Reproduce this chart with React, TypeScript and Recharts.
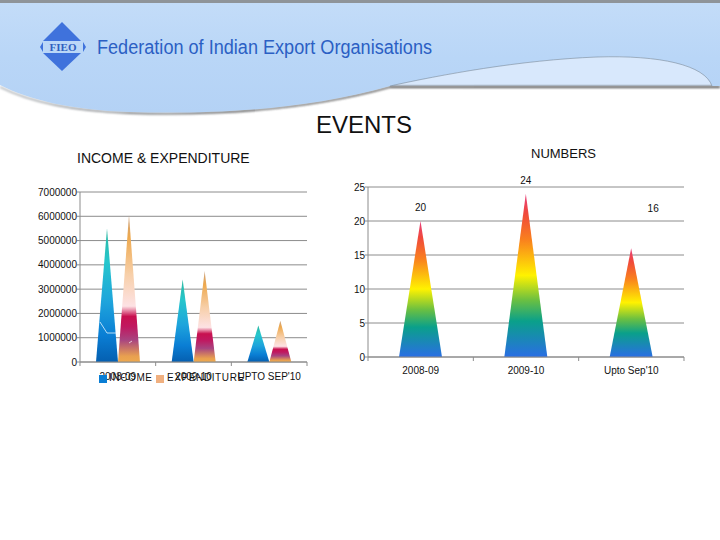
import React from "react";
import { BarChart, Bar, XAxis, YAxis, CartesianGrid, LabelList } from "recharts";

const FONT = "'Liberation Sans', Arial, sans-serif";
const GRID = "#8c8c8c";

const periods = ["2008-09", "2009-10", "UPTO  SEP'10"];
const incomeValues = [5500000, 3400000, 1500000];
const expenditureValues = [6050000, 3750000, 1700000];
const moneyTicks = [0, 1000000, 2000000, 3000000, 4000000, 5000000, 6000000, 7000000];

const eventPeriods = ["2008-09", "2009-10", "Upto Sep'10"];
const eventCounts = [20, 24, 16];
const countTicks = [0, 5, 10, 15, 20, 25];
const labelShiftX = [0, 0, 22];
const labelShiftY = [0, 0, -26];

const moneyData = periods.map((period, i) => ({
  period,
  income: incomeValues[i],
  expenditure: expenditureValues[i],
}));
const countData = eventPeriods.map((period, i) => ({ period, count: eventCounts[i] }));

const Spike = (props: any) => {
  const { x, y, width, height, fill } = props;
  return <path d={`M${x},${y + height} L${x + width / 2},${y} L${x + width},${y + height} Z`} fill={fill} />;
};

const BandTick = (props: any) => {
  const { x, y, payload, index, band, last, size } = props;
  return (
    <g>
      <line x1={x - band / 2} x2={x - band / 2} y1={y - 8} y2={y - 4} stroke={GRID} />
      {index === last && <line x1={x + band / 2} x2={x + band / 2} y1={y - 8} y2={y - 4} stroke={GRID} />}
      <text x={x} y={y + size} textAnchor="middle" fontSize={10} fontFamily={FONT} fill="#111">
        {payload.value}
      </text>
    </g>
  );
};

const CountLabel = (props: any) => {
  const { x, y, width, value, index } = props;
  return (
    <text
      x={x + width / 2 + labelShiftX[index]}
      y={y - 10 + labelShiftY[index]}
      textAnchor="middle"
      fontSize={10}
      fontFamily={FONT}
      fill="#111"
    >
      {value}
    </text>
  );
};

const Stop = (o: number, c: string) => <stop offset={`${o}%`} stopColor={c} />;

const Header = () => (
  <svg width={720} height={175} style={{ position: "absolute", left: 0, top: 0 }}>
    <defs>
      <linearGradient id="head" x1="0" y1="0" x2="0" y2="1">
        {Stop(0, "#c3dcf8")}
        {Stop(50, "#b9d6f7")}
        {Stop(100, "#b4d2f5")}
      </linearGradient>
      <linearGradient id="shadowFade" x1="0" y1="0" x2="1" y2="0">
        {Stop(0, "#b0b4b8")}
        {Stop(15, "#808488")}
        {Stop(40, "#505050")}
        {Stop(100, "#484848")}
      </linearGradient>
      <filter id="blur" x="-5%" y="-30%" width="110%" height="160%">
        <feGaussianBlur stdDeviation="1" />
      </filter>
    </defs>
    <rect x={0} y={0} width={720} height={3} fill="#8f9499" />
    <path d="M390,86 C440,75 520,60 597,57 C660,55 705,65 712,86 Z" fill="#d8e8fc" />
    <path
      d="M0,87 C30,102 70,111 130,113 C200,115 300,112 390,87 L720,87"
      fill="none"
      stroke="url(#shadowFade)"
      strokeWidth={1.8}
      filter="url(#blur)"
    />
    <path
      d="M0,3 L720,3 L720,86 L712,86 C705,65 660,55 597,57 C520,60 440,75 390,86 C300,112 200,114 130,112 C70,110 30,100 0,85 Z"
      fill="url(#head)"
    />
    <path d="M390,86 C440,75 520,60 597,57 C660,55 705,65 712,86" fill="none" stroke="#6f7f90" strokeWidth={1} opacity={0.55} />
    <polygon points="62,22 43,41 81,41" fill="#3f72dc" />
    <polygon points="62,71 43,53 81,53" fill="#3f72dc" />
    <polygon points="40,47 43,42 43,52" fill="#3f72dc" />
    <polygon points="86,47 83,42 83,52" fill="#3f72dc" />
    <text x={63} y={51} textAnchor="middle" fontSize={11} fontWeight="bold" fontFamily="'Liberation Serif', serif" fill="#2f5fc0">
      FIEO
    </text>
    <text x={97} y={54} fontSize={20} fontFamily={FONT} fill="#2b5fc4" textLength={335} lengthAdjust="spacingAndGlyphs">
      Federation of Indian Export Organisations
    </text>
  </svg>
);

const abs = (left: number, top: number, size: number, extra: any = {}) => ({
  position: "absolute" as const,
  left,
  top,
  fontSize: size,
  fontFamily: FONT,
  color: "#111",
  whiteSpace: "pre" as const,
  lineHeight: 1,
  ...extra,
});

export default function App() {
  return (
    <div style={{ position: "fixed", left: 0, top: 0, width: 720, height: 540, background: "#fff", overflow: "hidden" }}>
      <Header />
      <div style={abs(316, 113, 24)}>EVENTS</div>
      <div style={abs(77, 151, 14)}>INCOME &amp; EXPENDITURE</div>
      <div style={abs(531, 147, 13)}>NUMBERS</div>

      <div style={{ position: "absolute", left: 0, top: 0 }}>
        <BarChart
          width={340}
          height={400}
          data={moneyData}
          margin={{ top: 192, right: 33, bottom: 8, left: 0 }}
          barSize={22}
          barGap={0}
        >
          <defs>
            <linearGradient id="incomeFill" x1="0" y1="0" x2="0" y2="1">
              {Stop(0, "#2cb8a0")}
              {Stop(25, "#26c6cc")}
              {Stop(55, "#1ea4dc")}
              {Stop(80, "#0a7ed4")}
              {Stop(100, "#055fb0")}
            </linearGradient>
            <linearGradient id="expenseFill" x1="0" y1="0" x2="0" y2="1">
              {Stop(0, "#c8a080")}
              {Stop(15, "#eea94e")}
              {Stop(40, "#f7cfa8")}
              {Stop(62, "#fde2e4")}
              {Stop(69, "#c8104f")}
              {Stop(76, "#c01860")}
              {Stop(85, "#a84480")}
              {Stop(96, "#e8a050")}
              {Stop(100, "#eea94e")}
            </linearGradient>
          </defs>
          <CartesianGrid vertical={false} stroke={GRID} strokeWidth={1} />
          <XAxis
            dataKey="period"
            axisLine={{ stroke: GRID }}
            tickLine={false}
            interval={0}
            height={30}
            tick={<BandTick band={75.67} last={2} size={10} />}
          />
          <YAxis
            width={80}
            domain={[0, 7000000]}
            ticks={moneyTicks}
            interval={0}
            axisLine={{ stroke: GRID }}
            tickLine={{ stroke: GRID }}
            tickSize={3}
            tickMargin={0}
            tick={{ fontSize: 10, fontFamily: FONT, fill: "#111" }}
          />
          <Bar dataKey="income" fill="url(#incomeFill)" shape={<Spike />} isAnimationActive={false} />
          <Bar dataKey="expenditure" fill="url(#expenseFill)" shape={<Spike />} isAnimationActive={false} />
        </BarChart>
      </div>

      <div style={{ position: "absolute", left: 340, top: 0 }}>
        <BarChart
          width={380}
          height={400}
          data={countData}
          margin={{ top: 187, right: 36, bottom: 13, left: 0 }}
          barSize={43}
        >
          <defs>
            <linearGradient id="rainbow" x1="0" y1="0" x2="0" y2="1">
              {Stop(0, "#e8407e")}
              {Stop(12, "#f0483c")}
              {Stop(28, "#f9801e")}
              {Stop(50, "#fff200")}
              {Stop(65, "#6cc040")}
              {Stop(78, "#0aa08a")}
              {Stop(100, "#2a6ee4")}
            </linearGradient>
          </defs>
          <CartesianGrid vertical={false} stroke={GRID} strokeWidth={1} />
          <XAxis
            dataKey="period"
            axisLine={{ stroke: GRID }}
            tickLine={false}
            interval={0}
            height={30}
            tick={<BandTick band={105.33} last={2} size={9} />}
          />
          <YAxis
            width={28}
            domain={[0, 25]}
            ticks={countTicks}
            interval={0}
            axisLine={{ stroke: GRID }}
            tickLine={{ stroke: GRID }}
            tickSize={3}
            tickMargin={0}
            tick={{ fontSize: 10, fontFamily: FONT, fill: "#111" }}
          />
          <Bar dataKey="count" fill="url(#rainbow)" shape={<Spike />} isAnimationActive={false}>
            <LabelList dataKey="count" content={<CountLabel />} />
          </Bar>
        </BarChart>
      </div>

      <svg width={720} height={540} style={{ position: "absolute", left: 0, top: 0, pointerEvents: "none" }}>
        <polyline points="100,322 107,333 116,333" fill="none" stroke="#dff2ff" strokeWidth={0.8} />
        <line x1={129} y1={343} x2={132} y2={341} stroke="#f6e6ee" strokeWidth={0.8} />
      </svg>

      <div style={{ position: "absolute", left: 99, top: 375, width: 8, height: 8, background: "#0a7ed4" }} />
      <div style={abs(109, 373, 10, { letterSpacing: 0.6 })}>INCOME</div>
      <div style={{ position: "absolute", left: 156, top: 375, width: 8, height: 8, background: "#f0b080" }} />
      <div style={abs(167, 373, 10, { letterSpacing: 0.6 })}>EXPENDITURE</div>
    </div>
  );
}
